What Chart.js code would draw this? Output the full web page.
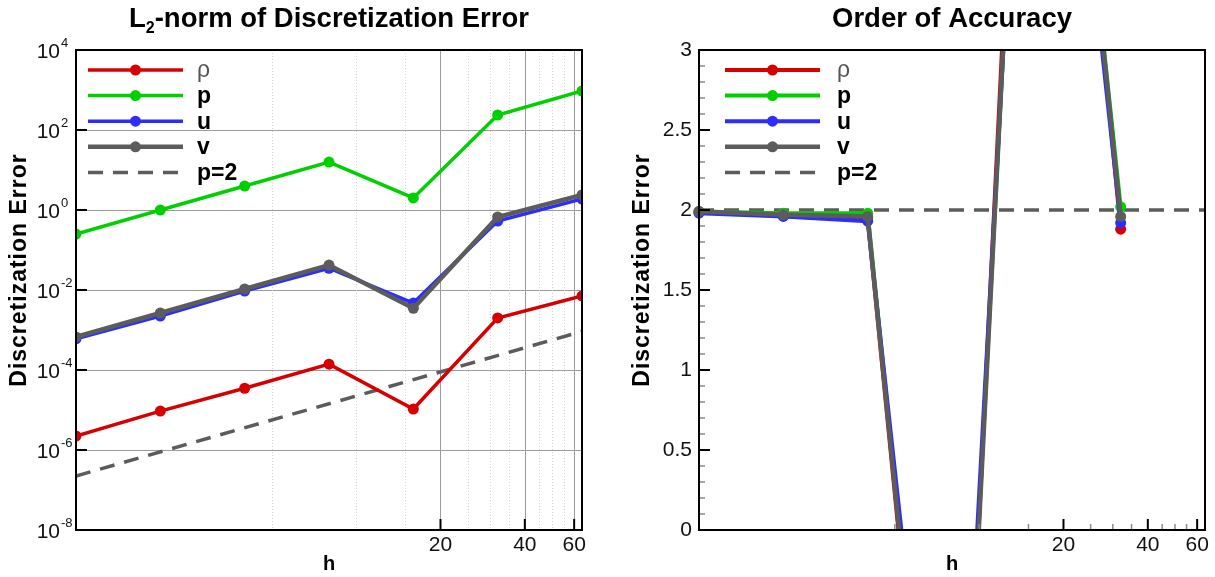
<!DOCTYPE html>
<html>
<head>
<meta charset="utf-8">
<script src="https://cdn.jsdelivr.net/npm/chart.js@4.4.0/dist/chart.umd.min.js"></script>
<style>
  body { margin: 0; background: #fff; }
  .panel { position: absolute; top: 0; }
  #left { left: 0; }
  #right { left: 610px; }
</style>
</head>
<body>
<div class="panel" id="left"><canvas id="errChart" width="610" height="577"></canvas></div>
<div class="panel" id="right"><canvas id="orderChart" width="605" height="577"></canvas></div>
<script>
// grid spacing
const h = [1, 2, 4, 8, 16, 32, 64];
const hOrder = [1, 2, 4, 8, 16, 32];

// L2 norm of the discretization error
const errRho = [2.24e-6, 9.4e-6, 3.5e-5, 1.4e-4, 1.06e-5, 2.0e-3, 7.1e-3];
const errP = [0.25, 1.0, 3.98, 15.8, 2.0, 237, 944];
const errU = [6.0e-4, 2.24e-3, 9.4e-3, 0.035, 4.7e-3, 0.53, 1.88];
const errV = [6.7e-4, 2.66e-3, 0.0106, 0.042, 3.5e-3, 0.67, 2.37];
const refH = [1, 64];
const refErr = [2.24e-7, 9.2e-4];

// observed order of accuracy
const ordRho = [1.99, 1.97, 1.95, -3.4, 7.4, 1.88];
const ordP = [1.99, 1.98, 1.98, -3.2, 7.0, 2.02];
const ordU = [1.98, 1.96, 1.93, -2.9, 6.8, 1.92];
const ordV = [1.99, 1.97, 1.96, -3.3, 7.1, 1.96];
const refOrder = [2, 2];

// axis ticks
const errExponents = [-8, -6, -4, -2, 0, 2, 4];
const hLabels = [20, 40, 60];
const hMinor = [5, 10, 15, 25, 30, 35, 45, 50, 55];
const orderTicks = [0, 0.5, 1, 1.5, 2, 2.5, 3];
const orderMinor = [0.1, 0.2, 0.3, 0.4, 0.6, 0.7, 0.8, 0.9, 1.1, 1.2, 1.3, 1.4, 1.6, 1.7, 1.8, 1.9,
                    2.1, 2.2, 2.3, 2.4, 2.6, 2.7, 2.8, 2.9];

const FONT = "'Liberation Sans', Arial, sans-serif";
const RED = 'rgb(214,0,0)';
const GREEN = 'rgb(0,208,0)';
const BLUE = 'rgb(45,45,255)';
const GRAY = 'rgb(92,92,92)';

const pts = (xs, ys) => xs.map((x, i) => ({ x: x, y: ys[i] }));

function series(label, color, xs, ys, width, order, extra) {
  return Object.assign({
    label: label,
    data: pts(xs, ys),
    borderColor: color,
    backgroundColor: color,
    borderWidth: width,
    pointRadius: 5.5,
    pointHoverRadius: 5.5,
    pointBorderWidth: 0,
    tension: 0,
    order: order
  }, extra || {});
}

// frame, grid, ticks, titles and legend
const panelPlugin = {
  id: 'panel',
  beforeDatasetsDraw(chart, args, o) {
    const { ctx, chartArea: a, scales: { x, y } } = chart;
    ctx.save();
    ctx.lineWidth = 1;
    ctx.strokeStyle = '#9c9c9c';
    (o.yGrid || []).forEach(v => {
      const py = Math.round(y.getPixelForValue(v)) + 0.5;
      ctx.beginPath(); ctx.moveTo(a.left, py); ctx.lineTo(a.right, py); ctx.stroke();
    });
    (o.xGrid || []).forEach(v => {
      const px = Math.round(x.getPixelForValue(v)) + 0.5;
      ctx.beginPath(); ctx.moveTo(px, a.top); ctx.lineTo(px, a.bottom); ctx.stroke();
    });
    ctx.strokeStyle = '#d4d4d4';
    ctx.setLineDash([1, 2]);
    (o.xGridMinor || []).forEach(v => {
      const px = Math.round(x.getPixelForValue(v)) + 0.5;
      ctx.beginPath(); ctx.moveTo(px, a.top); ctx.lineTo(px, a.bottom); ctx.stroke();
    });
    ctx.restore();
  },
  afterDatasetsDraw(chart, args, o) {
    const { ctx, chartArea: a, scales: { x, y } } = chart;
    ctx.save();

    // tick marks
    ctx.strokeStyle = '#000';
    ctx.lineWidth = 2;
    o.yMajor.forEach(v => {
      const py = y.getPixelForValue(v);
      ctx.beginPath(); ctx.moveTo(a.left, py); ctx.lineTo(a.left + 11, py); ctx.stroke();
    });
    o.xMajor.forEach(v => {
      const px = x.getPixelForValue(v);
      ctx.beginPath(); ctx.moveTo(px, a.bottom); ctx.lineTo(px, a.bottom - 11); ctx.stroke();
    });
    ctx.strokeStyle = '#8a8a8a';
    ctx.lineWidth = 1.5;
    (o.yMinor || []).forEach(v => {
      const py = y.getPixelForValue(v);
      ctx.beginPath(); ctx.moveTo(a.left, py); ctx.lineTo(a.left + 6, py); ctx.stroke();
    });
    (o.xMinor || []).forEach(v => {
      const px = x.getPixelForValue(v);
      ctx.beginPath(); ctx.moveTo(px, a.bottom); ctx.lineTo(px, a.bottom - 6); ctx.stroke();
    });

    // frame
    ctx.strokeStyle = '#000';
    ctx.lineWidth = 2;
    ctx.strokeRect(a.left, a.top, a.right - a.left, a.bottom - a.top);

    // tick labels
    ctx.fillStyle = '#111';
    ctx.textBaseline = 'middle';
    o.yMajor.forEach((v, i) => {
      const py = y.getPixelForValue(v);
      if (o.yPower) {
        ctx.font = '21px ' + FONT;
        ctx.textAlign = 'right';
        ctx.fillText('10', a.left - 16, py + 2);
        ctx.font = '13px ' + FONT;
        ctx.textAlign = 'left';
        ctx.fillText(String(o.yPower[i]), a.left - 15, py - 7);
      } else {
        ctx.font = '21px ' + FONT;
        ctx.textAlign = 'right';
        ctx.fillText(String(v), a.left - 7, py);
      }
    });
    ctx.font = '21px ' + FONT;
    ctx.textAlign = 'center';
    hLabels.forEach(v => ctx.fillText(String(v), x.getPixelForValue(v), a.bottom + 15));

    // axis titles
    const cx = (a.left + a.right) / 2;
    ctx.fillStyle = '#000';
    ctx.font = 'bold 20px ' + FONT;
    ctx.fillText(o.xTitle, cx, a.bottom + 34);
    ctx.save();
    ctx.translate(a.left - 56, 270);
    ctx.rotate(-Math.PI / 2);
    ctx.font = 'bold 23px ' + FONT;
    ctx.letterSpacing = '1px';
    ctx.fillText(o.yTitle, 0, 0);
    ctx.restore();

    // chart title, pieces may be lowered for subscripts
    let w = 0;
    o.title.forEach(p => { ctx.font = 'bold ' + p[1] + 'px ' + FONT; w += ctx.measureText(p[0]).width; });
    let tx = cx - w / 2;
    ctx.textAlign = 'left';
    ctx.textBaseline = 'alphabetic';
    o.title.forEach(p => {
      ctx.font = 'bold ' + p[1] + 'px ' + FONT;
      ctx.fillText(p[0], tx, 27 + p[2]);
      tx += ctx.measureText(p[0]).width;
    });

    // legend
    const lg = o.legend;
    ctx.textBaseline = 'middle';
    chart.data.datasets.forEach((ds, i) => {
      const ly = a.top + 20 + i * 25.6;
      ctx.strokeStyle = ds.borderColor;
      ctx.lineWidth = ds.borderWidth;
      ctx.setLineDash(ds.borderDash || []);
      ctx.beginPath(); ctx.moveTo(a.left + lg.x0, ly); ctx.lineTo(a.left + lg.x1, ly); ctx.stroke();
      ctx.setLineDash([]);
      if (ds.pointRadius > 0) {
        ctx.fillStyle = ds.backgroundColor;
        ctx.beginPath(); ctx.arc(a.left + (lg.x0 + lg.x1) / 2, ly, ds.pointRadius, 0, Math.PI * 2); ctx.fill();
      }
      const greek = ds.label === 'ρ';
      ctx.fillStyle = greek ? '#555' : '#000';
      ctx.font = (greek ? '' : 'bold ') + '23px ' + FONT;
      ctx.fillText(ds.label, a.left + lg.text, ly + 1);
    });
    ctx.restore();
  }
};

const hidden = { display: false };

new Chart(document.getElementById('errChart'), {
  type: 'line',
  data: {
    datasets: [
      series('ρ', RED, h, errRho, 3.5, 4),
      series('p', GREEN, h, errP, 3.5, 3),
      series('u', BLUE, h, errU, 3.5, 2),
      series('v', GRAY, h, errV, 4.5, 1),
      series('p=2', GRAY, refH, refErr, 3.5, 5, { borderDash: [15, 10], pointRadius: 0 })
    ]
  },
  options: {
    responsive: false,
    animation: false,
    devicePixelRatio: 1,
    layout: { padding: { left: 76, right: 28, top: 50, bottom: 47 } },
    scales: {
      x: Object.assign({ type: 'logarithmic', min: 1, max: 64 }, hidden),
      y: Object.assign({ type: 'logarithmic', min: 1e-8, max: 1e4 }, hidden)
    },
    plugins: {
      legend: hidden,
      tooltip: { enabled: false },
      panel: {
        title: [['L', 27.5, 0], ['2', 16, 6], ['-norm of Discretization Error', 27.5, 0]],
        xTitle: 'h',
        yTitle: 'Discretization Error',
        yMajor: errExponents.map(e => Math.pow(10, e)),
        yPower: errExponents,
        yGrid: errExponents.slice(1, -1).map(e => Math.pow(10, e)),
        xMajor: hLabels,
        xGrid: hLabels,
        xGridMinor: hMinor,
        legend: { x0: 12, x1: 107, text: 121 }
      }
    }
  },
  plugins: [panelPlugin]
});

const orderClip = { left: 8, right: 8, top: 0, bottom: 0 };

new Chart(document.getElementById('orderChart'), {
  type: 'line',
  data: {
    datasets: [
      series('ρ', RED, hOrder, ordRho, 4, 4, { clip: orderClip }),
      series('p', GREEN, hOrder, ordP, 4, 3, { clip: orderClip }),
      series('u', BLUE, hOrder, ordU, 4, 2, { clip: orderClip }),
      series('v', GRAY, hOrder, ordV, 4.5, 1, { clip: orderClip }),
      series('p=2', GRAY, refH, refOrder, 3.5, 5, { borderDash: [15, 10], pointRadius: 0, clip: orderClip })
    ]
  },
  options: {
    responsive: false,
    animation: false,
    devicePixelRatio: 1,
    layout: { padding: { left: 89, right: 10, top: 50, bottom: 47 } },
    scales: {
      x: Object.assign({ type: 'logarithmic', min: 1, max: 64 }, hidden),
      y: Object.assign({ type: 'linear', min: 0, max: 3 }, hidden)
    },
    plugins: {
      legend: hidden,
      tooltip: { enabled: false },
      panel: {
        title: [['Order of Accuracy', 27.5, 0]],
        xTitle: 'h',
        yTitle: 'Discretization Error',
        yMajor: orderTicks,
        yMinor: orderMinor,
        xMajor: hLabels,
        xMinor: hMinor,
        legend: { x0: 26, x1: 121, text: 138 }
      }
    }
  },
  plugins: [panelPlugin]
});
</script>
</body>
</html>
